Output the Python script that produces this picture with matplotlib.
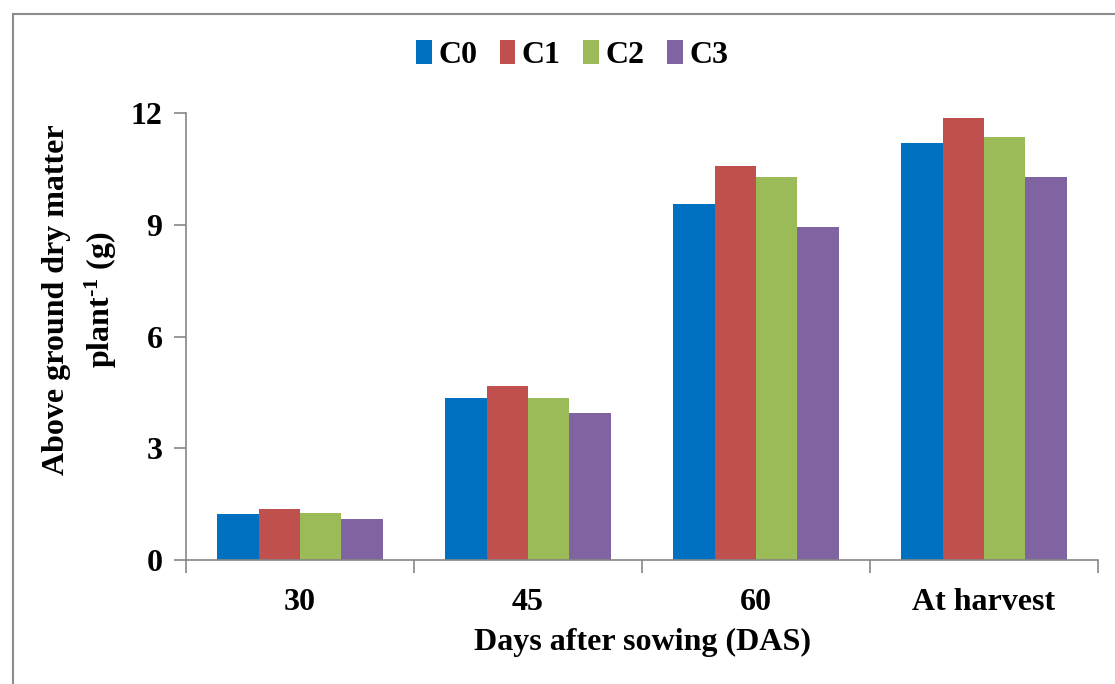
import numpy as np
import matplotlib
matplotlib.use('Agg')
import matplotlib.pyplot as plt
from matplotlib.lines import Line2D

plt.rcParams['font.family'] = 'Liberation Serif'
plt.rcParams['font.weight'] = 'bold'
plt.rcParams['mathtext.fontset'] = 'custom'
plt.rcParams['mathtext.rm'] = 'Liberation Serif:bold'
plt.rcParams['mathtext.it'] = 'Liberation Serif:bold'
plt.rcParams['mathtext.bf'] = 'Liberation Serif:bold'

categories = ['30', '45', '60', 'At harvest']
series = ['C0', 'C1', 'C2', 'C3']
c0 = [1.23, 4.35, 9.55, 11.19]
c1 = [1.37, 4.67, 10.58, 11.87]
c2 = [1.26, 4.35, 10.28, 11.36]
c3 = [1.10, 3.95, 8.94, 10.28]
colors = ['#0070C0', '#C0504D', '#9BBB59', '#8064A2']

W, H = 1115, 684
FS = 23
fig = plt.figure(figsize=(W / 100, H / 100), dpi=100)
ax = fig.add_axes([186 / W, 124 / H, (1098 - 186) / W, (560 - 113) / H])

x = np.arange(len(categories))
bw = 1 / 5.5
for i, (vals, col) in enumerate(zip([c0, c1, c2, c3], colors)):
    ax.bar(x + (i - 1.5) * bw, vals, bw, color=col, label=series[i], zorder=2)

ax.set_xlim(-0.5, len(categories) - 0.5)
ax.set_ylim(0, 12)
ax.set_yticks([0, 3, 6, 9, 12])
ax.set_xticks(x)
ax.set_xticklabels(categories)
ax.set_xticks(np.arange(-0.5, len(categories)), minor=True)
ax.tick_params(axis='x', which='major', length=0, labelsize=FS, pad=20)
ax.tick_params(axis='x', which='minor', length=9, color='#868686', width=1.2)
ax.tick_params(axis='y', length=9, color='#868686', width=1.2, labelsize=FS, pad=8)
for s in ['top', 'right']:
    ax.spines[s].set_visible(False)
for s in ['left', 'bottom']:
    ax.spines[s].set_color('#868686')
    ax.spines[s].set_linewidth(1.2)

ax.set_xlabel('Days after sowing (DAS)', fontsize=FS, fontweight='bold', labelpad=8)
fig.text(57 / W, 1 - 300 / H, 'Above ground dry matter', rotation=90,
         ha='center', va='center', fontsize=FS, fontweight='bold')
fig.text(101 / W, 1 - 300 / H, r'plant$^{\text{-1}}$ (g)', rotation=90,
         ha='center', va='center', fontsize=FS, fontweight='bold')

ax.legend(loc='center', bbox_to_anchor=(572 / W, 1 - 55 / H), bbox_transform=fig.transFigure,
          ncol=4, frameon=False, fontsize=FS, handlelength=0.5, handleheight=0.8,
          handletextpad=0.2, columnspacing=0.7)

# chart frame
fig.add_artist(Line2D([13 / W, 13 / W], [0, 1 - 14 / H], transform=fig.transFigure,
                      color='#8c8c8c', lw=1.5))
fig.add_artist(Line2D([13 / W, 1], [1 - 14 / H, 1 - 14 / H], transform=fig.transFigure,
                      color='#8c8c8c', lw=1.5))

fig.savefig('out.png', dpi=100)
